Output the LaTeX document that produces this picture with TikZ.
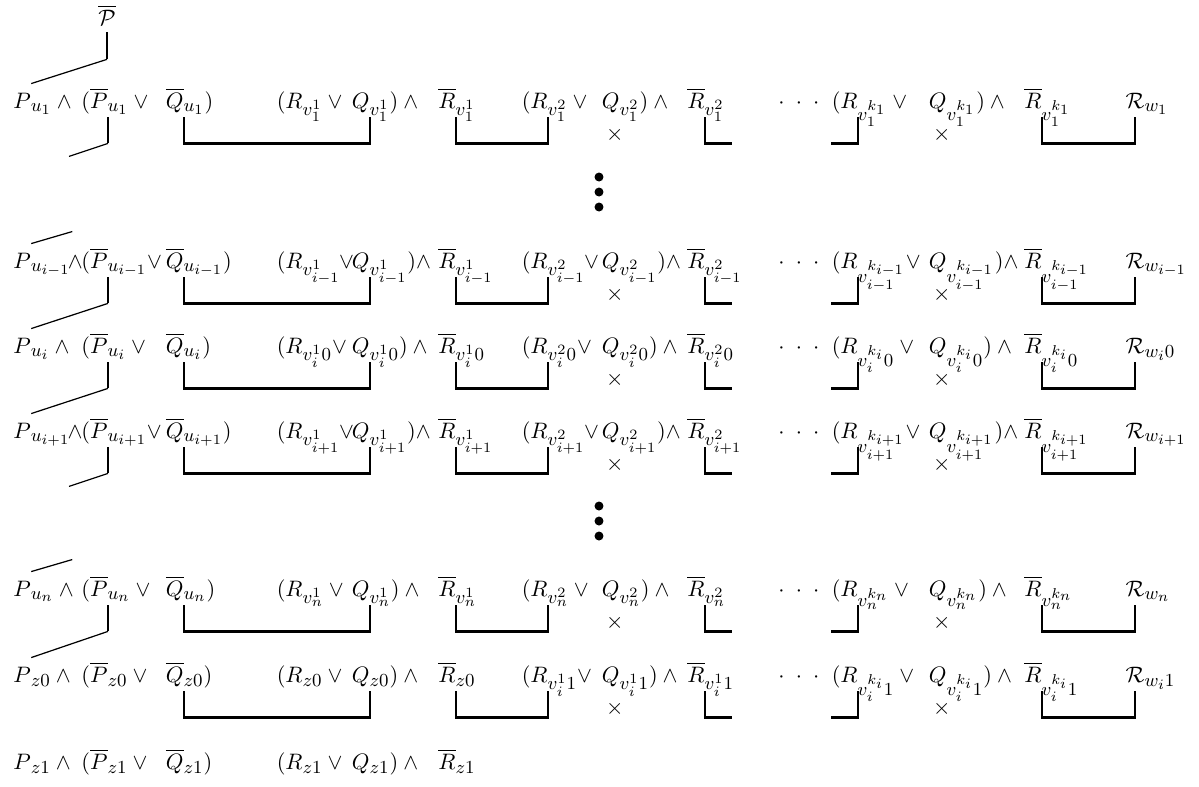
\documentclass[tikz,border=0pt]{standalone}
\usepackage{amsmath}
\usepackage{amssymb}
\usepackage{tikz}
\usetikzlibrary{positioning}
\DeclareMathSizes{10.95}{10.95}{9}{7}

\tikzset{
  lead/.style={inner sep=0pt, anchor=base west, text depth=4.4pt},
  lit/.style={inner sep=0pt, anchor=base east, text depth=4.4pt},
  bar/.style={line width=1.2pt},
  wire/.style={line width=0.6pt},
  cross/.style={inner sep=0pt},
  dot/.style={circle, fill, inner sep=0pt, minimum size=4.4pt},
}

\begin{document}
\begin{tikzpicture}[x=0.49pt, y=-0.49pt, font=\fontsize{10.95}{13}\selectfont]
\useasboundingbox (0,0) rectangle (1199,786);

% Top
\node[inner sep=0pt, anchor=base, text depth=3.4pt] (top) at (107,25) {$\overline{\mathcal{P}}$};

% Row u_1
\node[lead] (p-1) at (13,108) {$P\rlap{$_{u_1}\wedge{}$}$};
\node[lit] (pb-1) at (108,108) {$(\overline{P}\rlap{$_{u_1}\vee{}$}$};
\node[lit] (qb-1) at (184,108) {$\overline{Q}\rlap{$_{u_1})$}$};
\node[lit] (r1-1) at (303,108) {$(R\rlap{$_{v_1^1}\vee{}$}$};
\node[lit] (q1-1) at (370,108) {$Q\rlap{$_{v_1^1})\wedge{}$}$};
\node[lit] (rb1-1) at (456,108) {$\overline{R}\rlap{$_{v_1^1}$}$};
\node[lit] (r2-1) at (548,108) {$(R\rlap{$_{v_1^2}\vee{}$}$};
\node[lit] (q2-1) at (620,108) {$Q\rlap{$_{v_1^2})\wedge{}$}$};
\node[lit] (rb2-1) at (705,108) {$\overline{R}\rlap{$_{v_1^2}$}$};
\node[lead] (dt-1) at (778,108) {$\cdotp\mkern6mu\cdotp\mkern6mu\cdotp$};
\node[lit] (rk-1) at (858,108) {$(R\rlap{$_{v_1^{k_1}}\vee{}$}$};
\node[lit] (qk-1) at (947,108) {$Q\rlap{$_{v_1^{k_1}})\wedge{}$}$};
\node[lit] (rbk-1) at (1042,108) {$\overline{R}\rlap{$_{v_1^{k_1}}$}$};
\node[lit] (w-1) at (1145,108) {$\mathcal{R}\rlap{$_{w_1}$}$};
\node[cross, below=4.5pt of q2-1.south, xshift=2pt] (x2-1) {$\times$};
\node[cross, below=4.5pt of qk-1.south, xshift=2pt] (xk-1) {$\times$};

% Row u_{i-1}
\node[lead] (p-im) at (13,268) {$P\rlap{$_{u_{i-1}}\mkern-2mu{\wedge}$}$};
\node[lit] (pb-im) at (108,268) {$(\overline{P}\rlap{$_{u_{i-1}}{\vee}$}$};
\node[lit] (qb-im) at (184,268) {$\overline{Q}\rlap{$_{u_{i-1}})$}$};
\node[lit] (r1-im) at (303,268) {$(R\rlap{$_{v_{i-1}^1}\mkern-1mu{\vee}$}$};
\node[lit] (q1-im) at (370,268) {$Q\rlap{$_{v_{i-1}^1}){\wedge}$}$};
\node[lit] (rb1-im) at (456,268) {$\overline{R}\rlap{$_{v_{i-1}^1}$}$};
\node[lit] (r2-im) at (548,268) {$(R\rlap{$_{v_{i-1}^2}\mkern-1mu{\vee}$}$};
\node[lit] (q2-im) at (620,268) {$Q\rlap{$_{v_{i-1}^2}){\wedge}$}$};
\node[lit] (rb2-im) at (705,268) {$\overline{R}\rlap{$_{v_{i-1}^2}$}$};
\node[lead] (dt-im) at (778,268) {$\cdotp\mkern6mu\cdotp\mkern6mu\cdotp$};
\node[lit] (rk-im) at (858,268) {$(R\rlap{$_{v_{i-1}^{k_{i-1}}}{\vee}$}$};
\node[lit] (qk-im) at (947,268) {$Q\rlap{$_{v_{i-1}^{k_{i-1}}}){\wedge}$}$};
\node[lit] (rbk-im) at (1042,268) {$\overline{R}\rlap{$_{v_{i-1}^{k_{i-1}}}$}$};
\node[lit] (w-im) at (1145,268) {$\mathcal{R}\rlap{$_{w_{i-1}}$}$};
\node[cross, below=4.5pt of q2-im.south, xshift=2pt] (x2-im) {$\times$};
\node[cross, below=4.5pt of qk-im.south, xshift=2pt] (xk-im) {$\times$};

% Row u_i
\node[lead] (p-i) at (13,353) {$P\rlap{$_{u_i}\wedge{}$}$};
\node[lit] (pb-i) at (108,353) {$(\overline{P}\rlap{$_{u_i}\vee{}$}$};
\node[lit] (qb-i) at (184,353) {$\overline{Q}\rlap{$_{u_i})$}$};
\node[lit] (r1-i) at (303,353) {$(R\rlap{$_{v_i^10}{\vee}$}$};
\node[lit] (q1-i) at (370,353) {$Q\rlap{$_{v_i^10})\wedge{}$}$};
\node[lit] (rb1-i) at (456,353) {$\overline{R}\rlap{$_{v_i^10}$}$};
\node[lit] (r2-i) at (548,353) {$(R\rlap{$_{v_i^20}{\vee}$}$};
\node[lit] (q2-i) at (620,353) {$Q\rlap{$_{v_i^20})\wedge{}$}$};
\node[lit] (rb2-i) at (705,353) {$\overline{R}\rlap{$_{v_i^20}$}$};
\node[lead] (dt-i) at (778,353) {$\cdotp\mkern6mu\cdotp\mkern6mu\cdotp$};
\node[lit] (rk-i) at (858,353) {$(R\rlap{$_{v_i^{k_i}0}\vee{}$}$};
\node[lit] (qk-i) at (947,353) {$Q\rlap{$_{v_i^{k_i}0})\wedge{}$}$};
\node[lit] (rbk-i) at (1042,353) {$\overline{R}\rlap{$_{v_i^{k_i}0}$}$};
\node[lit] (w-i) at (1145,353) {$\mathcal{R}\rlap{$_{w_i0}$}$};
\node[cross, below=4.5pt of q2-i.south, xshift=2pt] (x2-i) {$\times$};
\node[cross, below=4.5pt of qk-i.south, xshift=2pt] (xk-i) {$\times$};

% Row u_{i+1}
\node[lead] (p-ip) at (13,438) {$P\rlap{$_{u_{i+1}}\mkern-2mu{\wedge}$}$};
\node[lit] (pb-ip) at (108,438) {$(\overline{P}\rlap{$_{u_{i+1}}{\vee}$}$};
\node[lit] (qb-ip) at (184,438) {$\overline{Q}\rlap{$_{u_{i+1}})$}$};
\node[lit] (r1-ip) at (303,438) {$(R\rlap{$_{v_{i+1}^1}\mkern-1mu{\vee}$}$};
\node[lit] (q1-ip) at (370,438) {$Q\rlap{$_{v_{i+1}^1}){\wedge}$}$};
\node[lit] (rb1-ip) at (456,438) {$\overline{R}\rlap{$_{v_{i+1}^1}$}$};
\node[lit] (r2-ip) at (548,438) {$(R\rlap{$_{v_{i+1}^2}\mkern-1mu{\vee}$}$};
\node[lit] (q2-ip) at (620,438) {$Q\rlap{$_{v_{i+1}^2}){\wedge}$}$};
\node[lit] (rb2-ip) at (705,438) {$\overline{R}\rlap{$_{v_{i+1}^2}$}$};
\node[lead] (dt-ip) at (778,438) {$\cdotp\mkern6mu\cdotp\mkern6mu\cdotp$};
\node[lit] (rk-ip) at (858,438) {$(R\rlap{$_{v_{i+1}^{k_{i+1}}}{\vee}$}$};
\node[lit] (qk-ip) at (947,438) {$Q\rlap{$_{v_{i+1}^{k_{i+1}}}){\wedge}$}$};
\node[lit] (rbk-ip) at (1042,438) {$\overline{R}\rlap{$_{v_{i+1}^{k_{i+1}}}$}$};
\node[lit] (w-ip) at (1145,438) {$\mathcal{R}\rlap{$_{w_{i+1}}$}$};
\node[cross, below=4.5pt of q2-ip.south, xshift=2pt] (x2-ip) {$\times$};
\node[cross, below=4.5pt of qk-ip.south, xshift=2pt] (xk-ip) {$\times$};

% Row u_n
\node[lead] (p-n) at (13,596) {$P\rlap{$_{u_n}\wedge{}$}$};
\node[lit] (pb-n) at (108,596) {$(\overline{P}\rlap{$_{u_n}\vee{}$}$};
\node[lit] (qb-n) at (184,596) {$\overline{Q}\rlap{$_{u_n})$}$};
\node[lit] (r1-n) at (303,596) {$(R\rlap{$_{v_n^1}\vee{}$}$};
\node[lit] (q1-n) at (370,596) {$Q\rlap{$_{v_n^1})\wedge{}$}$};
\node[lit] (rb1-n) at (456,596) {$\overline{R}\rlap{$_{v_n^1}$}$};
\node[lit] (r2-n) at (548,596) {$(R\rlap{$_{v_n^2}\vee{}$}$};
\node[lit] (q2-n) at (620,596) {$Q\rlap{$_{v_n^2})\wedge{}$}$};
\node[lit] (rb2-n) at (705,596) {$\overline{R}\rlap{$_{v_n^2}$}$};
\node[lead] (dt-n) at (778,596) {$\cdotp\mkern6mu\cdotp\mkern6mu\cdotp$};
\node[lit] (rk-n) at (858,596) {$(R\rlap{$_{v_n^{k_n}}\vee{}$}$};
\node[lit] (qk-n) at (947,596) {$Q\rlap{$_{v_n^{k_n}})\wedge{}$}$};
\node[lit] (rbk-n) at (1042,596) {$\overline{R}\rlap{$_{v_n^{k_n}}$}$};
\node[lit] (w-n) at (1145,596) {$\mathcal{R}\rlap{$_{w_n}$}$};
\node[cross, below=4.5pt of q2-n.south, xshift=2pt] (x2-n) {$\times$};
\node[cross, below=4.5pt of qk-n.south, xshift=2pt] (xk-n) {$\times$};

% Row z0
\node[lead] (p-z0) at (13,682) {$P\rlap{$_{z0}\wedge{}$}$};
\node[lit] (pb-z0) at (108,682) {$(\overline{P}\rlap{$_{z0}\vee{}$}$};
\node[lit] (qb-z0) at (184,682) {$\overline{Q}\rlap{$_{z0})$}$};
\node[lit] (r1-z0) at (303,682) {$(R\rlap{$_{z0}\vee{}$}$};
\node[lit] (q1-z0) at (370,682) {$Q\rlap{$_{z0})\wedge{}$}$};
\node[lit] (rb1-z0) at (456,682) {$\overline{R}\rlap{$_{z0}$}$};
\node[lit] (r2-z0) at (548,682) {$(R\rlap{$_{v_i^11}{\vee}$}$};
\node[lit] (q2-z0) at (620,682) {$Q\rlap{$_{v_i^11})\wedge{}$}$};
\node[lit] (rb2-z0) at (705,682) {$\overline{R}\rlap{$_{v_i^11}$}$};
\node[lead] (dt-z0) at (778,682) {$\cdotp\mkern6mu\cdotp\mkern6mu\cdotp$};
\node[lit] (rk-z0) at (858,682) {$(R\rlap{$_{v_i^{k_i}1}\vee{}$}$};
\node[lit] (qk-z0) at (947,682) {$Q\rlap{$_{v_i^{k_i}1})\wedge{}$}$};
\node[lit] (rbk-z0) at (1042,682) {$\overline{R}\rlap{$_{v_i^{k_i}1}$}$};
\node[lit] (w-z0) at (1145,682) {$\mathcal{R}\rlap{$_{w_i1}$}$};
\node[cross, below=4.5pt of q2-z0.south, xshift=2pt] (x2-z0) {$\times$};
\node[cross, below=4.5pt of qk-z0.south, xshift=2pt] (xk-z0) {$\times$};

% Row z1
\node[lead] (p-z1) at (13,769) {$P\rlap{$_{z1}\wedge{}$}$};
\node[lit] (pb-z1) at (108,769) {$(\overline{P}\rlap{$_{z1}\vee{}$}$};
\node[lit] (qb-z1) at (184,769) {$\overline{Q}\rlap{$_{z1})$}$};
\node[lit] (r1-z1) at (303,769) {$(R\rlap{$_{z1}\vee{}$}$};
\node[lit] (q1-z1) at (370,769) {$Q\rlap{$_{z1})\wedge{}$}$};
\node[lit] (rb1-z1) at (456,769) {$\overline{R}\rlap{$_{z1}$}$};

% Vertical dots
\foreach \y in {177,192,207,506,521,536}
    \node[dot] (dot-\y) at (599,\y) {};

% Brackets
\foreach \r in {1,im,i,ip,n,z0} {
    \draw[bar] (qb-\r.south east) -- ++(0,26) -| (q1-\r.south east);
    \draw[bar] (rb1-\r.south east) -- ++(0,26) -| (r2-\r.south east);
    \draw[bar] (rb2-\r.south east) -- ++(0,26) -- ++(27,0);
    \draw[bar] (rk-\r.south east) -- ++(0,26) -- ++(-27,0);
    \draw[bar] (rbk-\r.south east) -- ++(0,26) -| (w-\r.south);
}

% Chain of P's
\draw[bar] (top.south) -- ++(0,27) coordinate (top-end);
\draw[wire] (top-end) -- ([yshift=4.3pt]p-1.north east);
\foreach \r in {1,im,i,ip,n}
    \draw[bar] (pb-\r.south east) -- ++(0,26) coordinate (pb-\r-end);
\draw[wire] (pb-1-end) -- ++(-39,13);
\draw[wire] ([yshift=4.3pt]p-im.north east) -- ++(41,-12);
\draw[wire] (pb-im-end) -- ([yshift=4.3pt]p-i.north east);
\draw[wire] (pb-i-end) -- ([yshift=4.3pt]p-ip.north east);
\draw[wire] (pb-ip-end) -- ++(-39,13);
\draw[wire] ([yshift=4.3pt]p-n.north east) -- ++(41,-12);
\draw[wire] (pb-n-end) -- ([yshift=4.3pt]p-z0.north east);
\end{tikzpicture}
\end{document}
